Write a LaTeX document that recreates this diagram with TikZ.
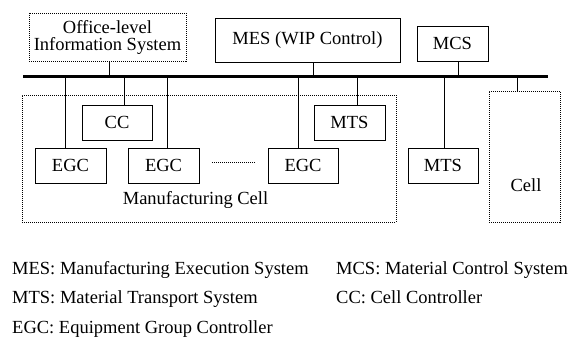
\documentclass[tikz,border=0pt]{standalone}
\usepackage{fontspec}
\setmainfont{Liberation Serif}
\usepackage{tikz}

\begin{document}
\begin{tikzpicture}[x=1pt,y=-1pt,
        box/.style={shape=rectangle,draw=black,line width=0.8pt,inner sep=0pt,
            minimum width=71pt,minimum height=35pt},
        dotbox/.style={box,dash pattern=on 1pt off 1pt},
        tap/.style={line width=0.8pt},
        txt/.style={inner sep=0pt,anchor=base west},
        every node/.style={font=\fontsize{18.5}{17}\selectfont}]
        \useasboundingbox (0,0) rectangle (574,344);

        % upper level
        \node[dotbox,minimum width=157pt,minimum height=48pt,align=center] (OIS) at (107.5,37) {Office-level\\Information System};
        \node[box,minimum width=185pt,minimum height=44pt] (MES) at (307.5,40) {MES (WIP Control)};
        \node[box] (MCS) at (452.5,43.5) {MCS};

        % the network line
        \coordinate (busL) at (23,76.7);
        \coordinate (busR) at (548,76.7);
        \draw[line width=2.6pt] (busL) -- (busR);

        % cells
        \node[dotbox,minimum width=374pt,minimum height=127pt] (MC) at (209,158.5) {};
        \node[dotbox,minimum height=131pt] (Cell) at (524.5,156.5) {};
        \node[txt,anchor=base] (MClbl) at (195.5,205) {Manufacturing Cell};
        \node[txt,anchor=base] (Celllbl) at (526,192) {Cell};

        % controllers
        \node[box,minimum width=70pt] (CC) at (117,122.5) {CC};
        \node[box] (EGCa) at (70.5,165.5) {EGC};
        \node[box] (EGCb) at (163.5,165.5) {EGC};
        \node[box,minimum width=70pt] (EGCc) at (303,165.5) {EGC};
        \node[box] (MTSa) at (349.5,122.5) {MTS};
        \node[box,minimum width=70pt] (MTSb) at (443,165.5) {MTS};

        % taps on the bus
        \coordinate (tOIS) at (109,76.7);
        \coordinate (tMES) at (313,76.7);
        \coordinate (tMCS) at (458,76.7);
        \coordinate (tEGCa) at (65,76.7);
        \coordinate (tCC) at (124,76.7);
        \coordinate (tEGCb) at (167,76.7);
        \coordinate (tEGCc) at (298,76.7);
        \coordinate (tMTSa) at (357,76.7);
        \coordinate (tMTSb) at (444,76.7);
        \coordinate (tCell) at (517,76.7);

        \path [tap](tOIS) edge (tOIS |- OIS.south);
        \path [tap](tMES) edge (tMES |- MES.south);
        \path [tap](tMCS) edge (tMCS |- MCS.south);
        \path [tap](tEGCa) edge (tEGCa |- EGCa.north);
        \path [tap](tCC) edge (tCC |- CC.north);
        \path [tap](tEGCb) edge (tEGCb |- EGCb.north);
        \path [tap](tEGCc) edge (tEGCc |- EGCc.north);
        \path [tap](tMTSa) edge (tMTSa |- MTSa.north);
        \path [tap](tMTSb) edge (tMTSb |- MTSb.north);
        \path [tap](tCell) edge (tCell |- Cell.north);

        \draw[line width=0.8pt,dash pattern=on 1pt off 1pt] ([shift={(13,-3.5)}]EGCb.east) -- ([shift={(-12,-3.5)}]EGCc.west);

        % abbreviations
        \node[txt] (kMES) at (12,275) {MES: Manufacturing Execution System};
        \node[txt] (kMTS) at (12,303.5) {MTS: Material Transport System};
        \node[txt] (kEGC) at (12,334) {EGC: Equipment Group Controller};
        \node[txt] (kMCS) at (336,274.5) {MCS: Material Control System};
        \node[txt] (kCC) at (336,304) {CC: Cell Controller};
    \end{tikzpicture}
\end{document}
